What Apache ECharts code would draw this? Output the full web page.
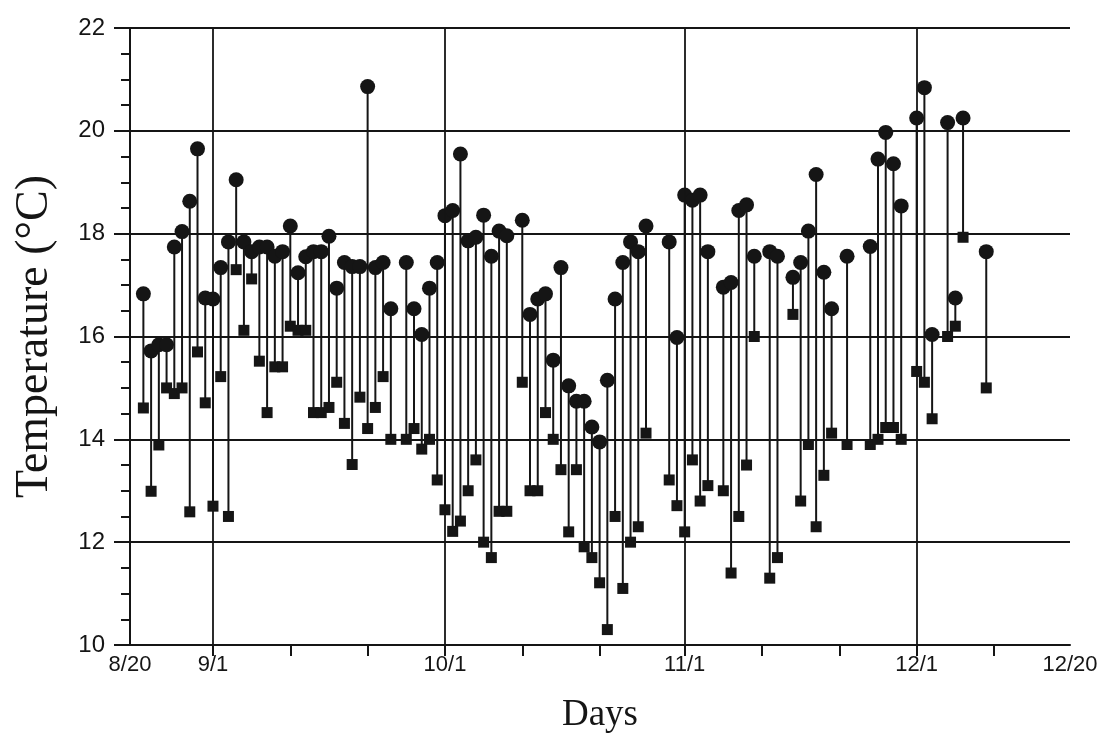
<!DOCTYPE html>
<html>
<head>
<meta charset="utf-8">
<script src="https://cdn.jsdelivr.net/npm/echarts@6/dist/echarts.min.js"></script>
<style>
  html, body { margin: 0; padding: 0; background: #fff; }
  #chart { width: 1113px; height: 749px; }
</style>
</head>
<body>
<div id="chart"></div>
<script>
// day number counted from 9/1 (0 = 9/1)
const days = [
  -9, -8, -7, -6, -5, -4, -3, -2, -1, 0,
  1, 2, 3, 4, 5, 6, 7, 8, 9, 10,
  11, 12, 13, 14, 15, 16, 17, 18, 19, 20,
  21, 22, 23, 25, 26, 27, 28, 29, 30, 31,
  32, 33, 34, 35, 36, 37, 38, 40, 41, 42,
  43, 44, 45, 46, 47, 48, 49, 50, 51, 52,
  53, 54, 55, 56, 59, 60, 61, 62, 63, 64,
  66, 67, 68, 69, 70, 72, 73, 75, 76, 77,
  78, 79, 80, 82, 85, 86, 87, 88, 89, 91,
  92, 93, 95, 96, 97, 100
];
// circles (upper value of each day)
const tHigh = [
  16.83, 15.72, 15.84, 15.84, 17.74, 18.04, 18.63, 19.65, 16.75, 16.73,
  17.34, 17.84, 19.05, 17.84, 17.65, 17.74, 17.74, 17.56, 17.65, 18.15,
  17.24, 17.55, 17.65, 17.65, 17.95, 16.94, 17.44, 17.36, 17.36, 20.86,
  17.34, 17.44, 16.54, 17.44, 16.54, 16.04, 16.94, 17.44, 18.35, 18.45,
  19.55, 17.86, 17.93, 18.36, 17.56, 18.05, 17.96, 18.26, 16.43, 16.73,
  16.83, 15.54, 17.34, 15.04, 14.74, 14.74, 14.24, 13.95, 15.15, 16.73,
  17.44, 17.84, 17.65, 18.15, 17.84, 15.98, 18.75, 18.65, 18.75, 17.65,
  16.96, 17.05, 18.45, 18.56, 17.56, 17.65, 17.56, 17.15, 17.44, 18.05,
  19.15, 17.25, 16.54, 17.56, 17.75, 19.45, 19.97, 19.36, 18.54, 20.25,
  20.84, 16.04, 20.16, 16.75, 20.25, 17.65
];
// squares (lower value of each day)
const tLow = [
  14.61, 12.99, 13.89, 15.0, 14.89, 15.0, 12.59, 15.7, 14.71, 12.7,
  15.22, 12.5, 17.3, 16.12, 17.12, 15.52, 14.52, 15.41, 15.41, 16.2,
  16.12, 16.12, 14.52, 14.52, 14.62, 15.11, 14.31, 13.51, 14.82, 14.21,
  14.62, 15.22, 14.0, 14.0, 14.21, 13.81, 14.0, 13.21, 12.63, 12.21,
  12.41, 13.0, 13.6, 12.0, 11.7, 12.6, 12.6, 15.11, 13.0, 13.0,
  14.52, 14.0, 13.41, 12.2, 13.41, 11.91, 11.7, 11.21, 10.3, 12.5,
  11.1, 12.0, 12.3, 14.12, 13.21, 12.71, 12.2, 13.6, 12.8, 13.1,
  13.0, 11.4, 12.5, 13.5, 16.0, 11.3, 11.7, 16.43, 12.8, 13.9,
  12.3, 13.3, 14.12, 13.9, 13.9, 14.0, 14.23, 14.23, 14.0, 15.32,
  15.11, 14.4, 16.0, 16.2, 17.93, 15.0
];
const xStart = -10.73;
const xEnd = 110.83;
const labelDays = [xStart, 0, 30, 61, 91, xEnd];
const labelTexts = ['8/20', '9/1', '10/1', '11/1', '12/1', '12/20'];
const tickDays = [0, 10, 20, 30, 40, 50, 61, 71, 81, 91, 101];
const monthStarts = [0, 30, 61, 91];

const ink = '#151515';
const chart = echarts.init(document.getElementById('chart'));

const option = {
  backgroundColor: '#fff',
  animation: false,
  grid: { left: 130, right: 43, top: 28, bottom: 104 },
  xAxis: {
    type: 'value',
    min: xStart,
    max: xEnd,
    name: 'Days',
    nameLocation: 'middle',
    nameGap: 52,
    nameTextStyle: { fontFamily: 'Liberation Serif', fontSize: 37, color: ink },
    axisLine: { onZero: false, lineStyle: { color: ink, width: 2 } },
    axisTick: {
      show: true, inside: false, length: 11,
      customValues: tickDays,
      lineStyle: { color: ink, width: 2 }
    },
    axisLabel: {
      customValues: labelDays,
      margin: 9,
      fontFamily: 'Liberation Sans', fontSize: 22, color: ink,
      formatter: (v) => {
        let k = 0;
        for (let i = 1; i < labelDays.length; i++) {
          if (Math.abs(labelDays[i] - v) < Math.abs(labelDays[k] - v)) k = i;
        }
        return labelTexts[k];
      }
    },
    splitLine: { show: false }
  },
  yAxis: {
    type: 'value',
    min: 10,
    max: 22,
    interval: 2,
    name: 'Temperature (°C)',
    nameLocation: 'middle',
    nameGap: 72,
    nameTextStyle: { fontFamily: 'Liberation Serif', fontSize: 46, color: ink },
    axisLine: { show: true, onZero: false, lineStyle: { color: ink, width: 2 } },
    axisTick: { show: true, inside: false, length: 16, lineStyle: { color: ink, width: 2 } },
    minorTick: { show: true, splitNumber: 4, length: 9, lineStyle: { color: ink, width: 2 } },
    axisLabel: { margin: 25, fontFamily: 'Liberation Sans', fontSize: 24, color: ink },
    splitLine: { show: true, lineStyle: { color: ink, width: 1.8 } }
  },
  series: [
    {
      type: 'custom',
      data: days.map((d, i) => [d, tHigh[i], tLow[i]]),
      encode: { x: 0, y: [1, 2] },
      renderItem: (params, api) => {
        const a = api.coord([api.value(0), api.value(1)]);
        const b = api.coord([api.value(0), api.value(2)]);
        return {
          type: 'line',
          shape: { x1: a[0], y1: a[1], x2: b[0], y2: b[1] },
          style: { stroke: ink, lineWidth: 2 }
        };
      },
      markLine: {
        silent: true,
        symbol: 'none',
        label: { show: false },
        lineStyle: { color: ink, width: 1.8, type: 'solid' },
        data: monthStarts.map(d => ({ xAxis: d }))
      },
      z: 3
    },
    {
      type: 'scatter',
      data: days.map((d, i) => [d, tHigh[i]]),
      symbol: 'circle',
      symbolSize: 15,
      itemStyle: { color: ink, opacity: 1 },
      z: 4
    },
    {
      type: 'scatter',
      data: days.map((d, i) => [d, tLow[i]]),
      symbol: 'rect',
      symbolSize: 11,
      itemStyle: { color: ink, opacity: 1 },
      z: 4
    }
  ]
};
chart.setOption(option);
</script>
</body>
</html>
